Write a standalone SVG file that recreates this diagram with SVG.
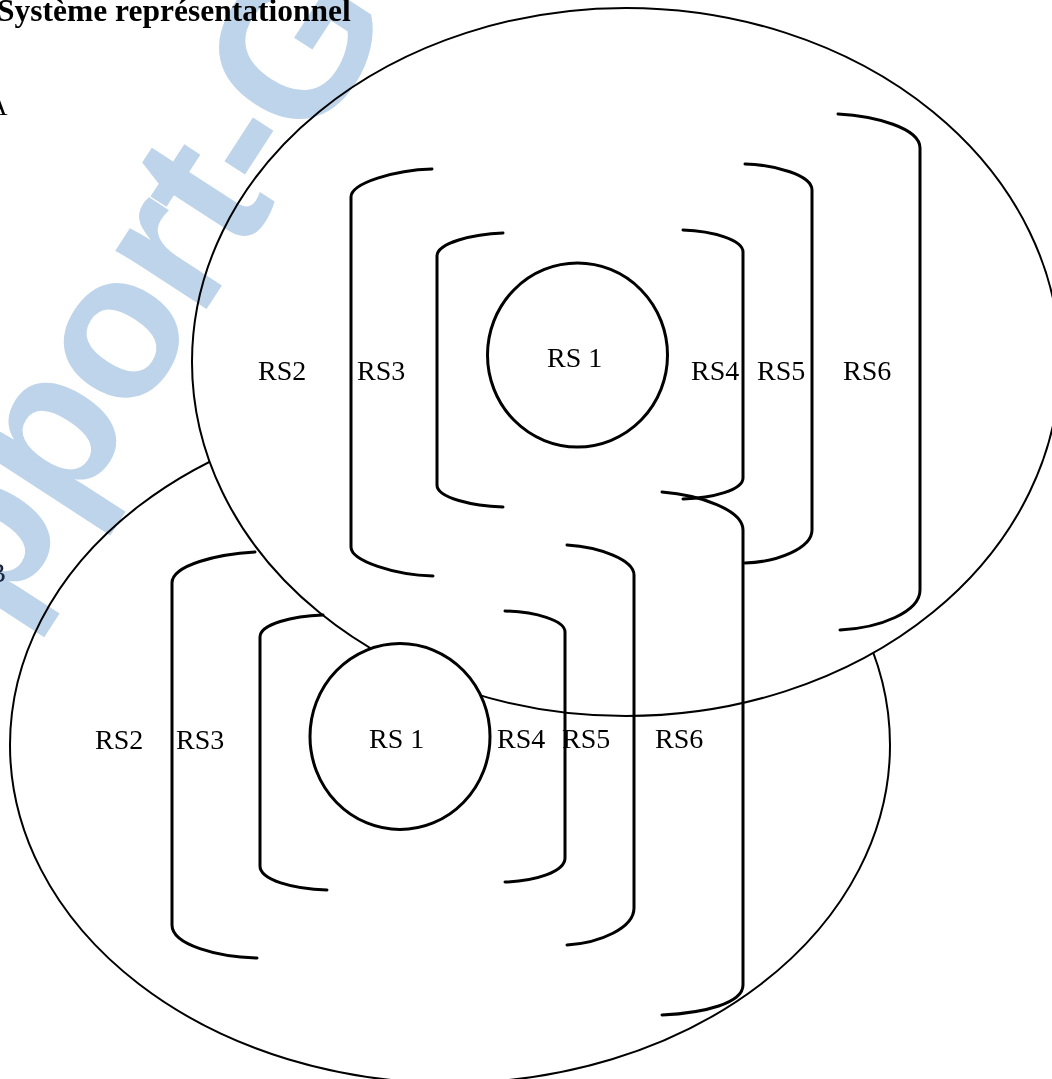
<svg xmlns="http://www.w3.org/2000/svg" width="1052" height="1079" viewBox="0 0 1052 1079">
  <style>
    .ell { fill: #ffffff; stroke: #000000; stroke-width: 2; }
    .br { fill: none; stroke: #000000; stroke-width: 3; stroke-linecap: round; stroke-linejoin: round; }
    .rs1 { fill: #ffffff; stroke: #000000; stroke-width: 3; }
    .lbl { font-family: "Liberation Serif", "Times New Roman", serif; font-size: 28px; fill: #000000; }
    .title { font-family: "Liberation Serif", "Times New Roman", serif; font-size: 31.5px; font-weight: bold; fill: #000000; }
    .sys { font-family: "Liberation Serif", "Times New Roman", serif; font-size: 27px; }
    .wm { font-family: "Liberation Sans", Arial, sans-serif; font-weight: bold; font-size: 205px; fill: #bed4ea; letter-spacing: -4px; mix-blend-mode: multiply; }
  </style>
  <rect x="0" y="0" width="1052" height="1079" fill="#ffffff"/>

  <!-- outlines of the two systems -->
  <g id="outline-B">
    <ellipse class="ell" cx="450" cy="745" rx="440" ry="338"/>
  </g>
  <g id="outline-A">
    <ellipse class="ell" cx="626" cy="362" rx="434" ry="354"/>
  </g>

  <!-- System A -->
  <g id="system-A">
    <g id="A-brackets">
      <path class="br" d="M432,169 C395,170 351,183 351,197 L351,547 C351,561 395,575 433,576"/>
      <path class="br" d="M503,233 C473,234 437,243 437,256 L437,485 C437,498 473,506 503,507"/>
      <path class="br" d="M683,230 C713,231 743,240 743,252 L743,478 C743,490 713,498 683,499"/>
      <path class="br" d="M745,164 C775,165 812,175 812,190 L812,530 C812,548 778,562 745,563"/>
      <path class="br" d="M838,114 C875,116 920,128 920,148 L920,590 C920,612 880,628 840,630"/>
    </g>
    <g id="A-RS1">
      <ellipse class="rs1" cx="577.5" cy="355" rx="90" ry="92"/>
      <text class="lbl" x="547" y="367">RS 1</text>
    </g>
    <g id="A-labels">
      <text class="lbl" x="258" y="380">RS2</text>
      <text class="lbl" x="357" y="380">RS3</text>
      <text class="lbl" x="691" y="380">RS4</text>
      <text class="lbl" x="757" y="380">RS5</text>
      <text class="lbl" x="843" y="380">RS6</text>
    </g>
  </g>

  <!-- System B -->
  <g id="system-B">
    <g id="B-brackets">
      <path class="br" d="M255,552 C218,554 172,565 172,583 L172,925 C172,945 218,957 257,958"/>
      <path class="br" d="M323,615 C293,616 260,624 260,637 L260,866 C260,880 293,889 327,890"/>
      <path class="br" d="M505,611 C535,612 565,620 565,632 L565,858 C565,872 535,881 505,882"/>
      <path class="br" d="M567,545 C600,547 634,560 634,575 L634,908 C634,928 600,943 567,945"/>
      <path class="br" d="M662,492 C700,495 743,510 743,530 L743,985 C743,1003 705,1013 662,1015"/>
    </g>
    <g id="B-RS1">
      <ellipse class="rs1" cx="400" cy="736.5" rx="90" ry="93"/>
      <text class="lbl" x="369" y="748">RS 1</text>
    </g>
    <g id="B-labels">
      <text class="lbl" x="95" y="749">RS2</text>
      <text class="lbl" x="176" y="749">RS3</text>
      <text class="lbl" x="497" y="748">RS4</text>
      <text class="lbl" x="562" y="748">RS5</text>
      <text class="lbl" x="655" y="748">RS6</text>
    </g>
  </g>

  <!-- watermark -->
  <g id="watermark">
    <text class="wm" transform="translate(-137.6,839) rotate(-57)" x="0" y="0">Support-G</text>
  </g>

  <!-- headings -->
  <g id="headings">
    <text class="title" x="-3" y="21">Système représentationnel</text>
    <text class="sys" x="-12" y="115" fill="#000000">A</text>
    <text class="sys" x="-12" y="582" fill="#1a2540">B</text>
  </g>
</svg>
